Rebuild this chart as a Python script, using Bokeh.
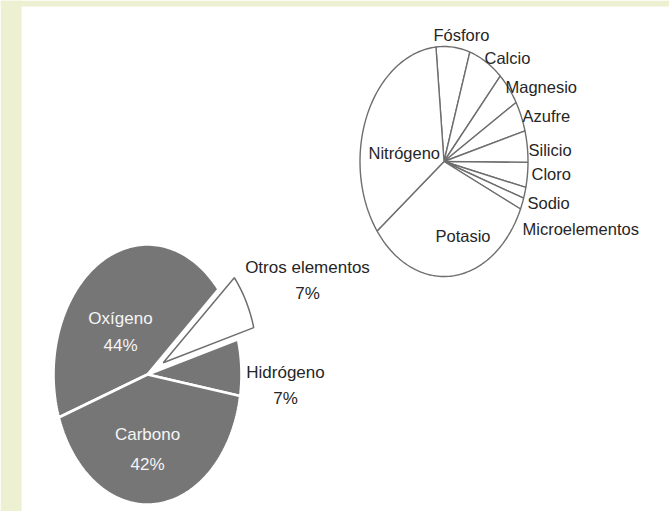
import numpy as np
from bokeh.plotting import figure
from bokeh.models import Range1d, ColumnDataSource, BoxAnnotation
from bokeh.core.properties import value
from bokeh.embed import file_html
from bokeh.resources import INLINE

# ---------------- data ----------------
big_labels = ["Hidrógeno", "Otros elementos", "Oxígeno", "Carbono"]
big_values = [7, 7, 44, 42]
big_exploded = [False, True, False, False]

small_labels = ["Fósforo", "Calcio", "Magnesio", "Azufre", "Silicio", "Cloro",
                "Sodio", "Microelementos", "Potasio", "Nitrógeno"]
small_values = [6.5, 6.7, 4.75, 4.3, 4.4, 3.5, 1.55, 1.6, 32.9, 33.8]

# ---------------- layout (page pixel coords, y downward) ----------------
BIG = dict(cx=147, cy=374, rx=94, ry=130, start=-9.5, direction=1)
BIG_EXPLODE = 0.19
SMALL = dict(cx=443.5, cy=161, rx=84, ry=115, start=95.5, direction=-1)

# label anchor positions: (x, name baseline y, pct baseline y)
big_label_pos = {
    "Hidrógeno": (285, 372, 398),
    "Otros elementos": (307, 267, 293),
    "Oxígeno": (120, 318, 345),
    "Carbono": (147, 434, 464),
}
big_inside = {"Oxígeno": True, "Carbono": True}

# (x, baseline y)
small_label_pos = {
    "Fósforo": (433, 34),
    "Calcio": (484, 57),
    "Magnesio": (505, 86),
    "Azufre": (522, 115),
    "Silicio": (528, 149),
    "Cloro": (531, 173),
    "Sodio": (527, 202),
    "Microelementos": (522, 228),
    "Potasio": (435, 235),
    "Nitrógeno": (368, 152),
}

GRAY = "#767676"
EDGE = "#6e6e6e"
TEXT = "#262626"
BACKDROP = "#eef0d2"
FONT = value("Liberation Sans")


def wedge_polys(values, cx, cy, rx, ry, start, direction, explode_flags=None, explode=0.0):
    total = float(sum(values))
    xs, ys = [], []
    a = start
    for i, v in enumerate(values):
        span = 360.0 * v / total * direction
        a0, a1 = a, a + span
        n = max(3, int(abs(span) / 1.5) + 2)
        t = np.radians(np.linspace(a0, a1, n))
        ox = oy = 0.0
        if explode_flags is not None and explode_flags[i]:
            mid = np.radians((a0 + a1) / 2.0)
            ox = explode * rx * np.cos(mid)
            oy = -explode * ry * np.sin(mid)
        px = np.concatenate([[cx + ox], cx + ox + rx * np.cos(t)])
        py = np.concatenate([[cy + oy], cy + oy - ry * np.sin(t)])
        xs.append(px.tolist())
        ys.append(py.tolist())
        a = a1
    return xs, ys


W, H = 669, 511
p = figure(width=W, height=H, x_range=Range1d(0, W), y_range=Range1d(H, 0),
           output_backend="svg", toolbar_location=None, min_border=0,
           x_axis_location=None, y_axis_location=None)
p.grid.visible = False
p.outline_line_color = None
p.background_fill_color = "white"
p.border_fill_color = "white"
# photo backdrop strips (left and top)
p.add_layout(BoxAnnotation(left=0, right=21, top=0, bottom=H, fill_color=BACKDROP,
                           fill_alpha=1.0, line_alpha=0, level="underlay"))
p.add_layout(BoxAnnotation(left=0, right=W, top=0, bottom=6, fill_color=BACKDROP,
                           fill_alpha=1.0, line_alpha=0, level="underlay"))

# ---- big pie ----
bxs, bys = wedge_polys(big_values, explode_flags=big_exploded, explode=BIG_EXPLODE, **BIG)
fill = ["white" if e else GRAY for e in big_exploded]
line = [EDGE if e else "white" for e in big_exploded]
lw = [1.5 if e else 2.6 for e in big_exploded]
p.patches(xs="xs", ys="ys", fill_color="fill", line_color="line", line_width="lw",
          source=ColumnDataSource(dict(xs=bxs, ys=bys, fill=fill, line=line, lw=lw)))

# ---- small pie ----
sxs, sys_ = wedge_polys(small_values, **SMALL)
p.patches(xs=sxs, ys=sys_, fill_color="white", line_color=EDGE, line_width=1.4)

# ---- big pie labels ----
bl = dict(x=[], yn=[], yp=[], name=[], pct=[], col=[])
for lab, v in zip(big_labels, big_values):
    x, yn, yp = big_label_pos[lab]
    bl["x"].append(x); bl["yn"].append(yn); bl["yp"].append(yp)
    bl["name"].append(lab); bl["pct"].append(f"{v}%")
    bl["col"].append("#f5f5f5" if big_inside.get(lab) else TEXT)
bsrc = ColumnDataSource(bl)
p.text(x="x", y="yn", text="name", text_color="col", source=bsrc, text_align="center",
       text_baseline="alphabetic", text_font=FONT, text_font_size="17px")
p.text(x="x", y="yp", text="pct", text_color="col", source=bsrc, text_align="center",
       text_baseline="alphabetic", text_font=FONT, text_font_size="17px")

# ---- small pie labels ----
sl = dict(x=[], y=[], name=[])
for lab in small_labels:
    x, y = small_label_pos[lab]
    sl["x"].append(x); sl["y"].append(y); sl["name"].append(lab)
p.text(x="x", y="y", text="name", source=ColumnDataSource(sl), text_align="left",
       text_baseline="alphabetic", text_color=TEXT, text_font=FONT, text_font_size="16.5px")

open("out.html", "w").write(file_html(p, INLINE))
